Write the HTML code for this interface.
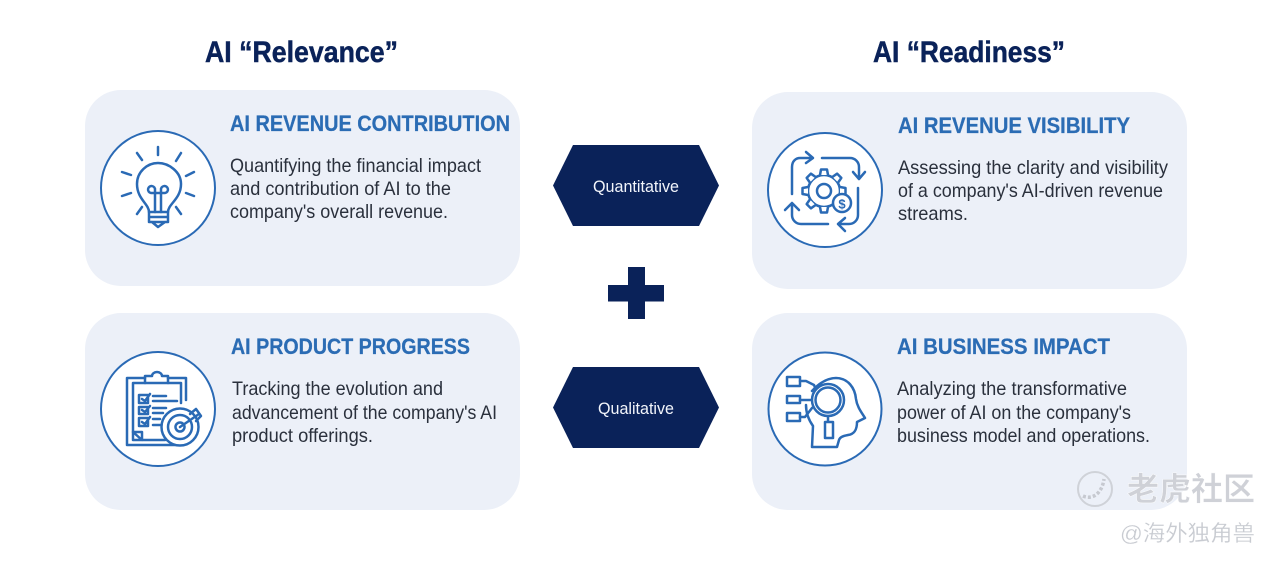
<!DOCTYPE html>
<html>
<head>
<meta charset="utf-8">
<style>
html,body{margin:0;padding:0;background:#fff;width:1280px;height:563px;overflow:hidden}
svg{display:block}
text{font-family:"Liberation Sans","Noto Sans CJK SC",sans-serif}
.t{font-size:30px;font-weight:700;fill:#0a2259;stroke:#0a2259;stroke-width:.5}
.h{font-size:22.5px;font-weight:700;fill:#2b6cb4;stroke:#2b6cb4;stroke-width:.25}
.b{font-size:19.5px;fill:#2a303c}
.x{font-size:16.5px;fill:#f2f5fb}
.i{fill:none;stroke:#2a6ab5;stroke-width:2.5;stroke-linecap:round;stroke-linejoin:round}
.c{fill:#fff;stroke:#2a6ab5;stroke-width:2}
</style>
</head>
<body>
<svg width="1280" height="563" viewBox="0 0 1280 563" xmlns="http://www.w3.org/2000/svg">
<rect width="1280" height="563" fill="#fff"/>

<text class="t" x="205" y="62" textLength="193" lengthAdjust="spacingAndGlyphs">AI “Relevance”</text>
<text class="t" x="873" y="62" textLength="192" lengthAdjust="spacingAndGlyphs">AI “Readiness”</text>

<rect x="85" y="90" width="435" height="196" rx="36" fill="#ecf0f8"/>
<rect x="85" y="313" width="435" height="197" rx="36" fill="#ecf0f8"/>
<rect x="752" y="92" width="435" height="197" rx="36" fill="#ecf0f8"/>
<rect x="752" y="313" width="435" height="197" rx="36" fill="#ecf0f8"/>

<circle class="c" cx="158" cy="188" r="57"/>
<circle class="c" cx="158" cy="409" r="57"/>
<circle class="c" cx="825" cy="190" r="57"/>
<circle class="c" cx="825" cy="409" r="56.5"/>

<!-- Card 1 -->
<text class="h" x="230" y="131" textLength="280" lengthAdjust="spacingAndGlyphs">AI REVENUE CONTRIBUTION</text>
<text class="b" x="230" y="172" textLength="251" lengthAdjust="spacingAndGlyphs">Quantifying the financial impact</text>
<text class="b" x="230" y="195" textLength="221" lengthAdjust="spacingAndGlyphs">and contribution of AI to the</text>
<text class="b" x="230" y="218" textLength="218" lengthAdjust="spacingAndGlyphs">company's overall revenue.</text>

<!-- Card 2 -->
<text class="h" x="231" y="354" textLength="239" lengthAdjust="spacingAndGlyphs">AI PRODUCT PROGRESS</text>
<text class="b" x="232" y="395" textLength="211" lengthAdjust="spacingAndGlyphs">Tracking the evolution and</text>
<text class="b" x="232" y="419" textLength="265" lengthAdjust="spacingAndGlyphs">advancement of the company's AI</text>
<text class="b" x="232" y="442" textLength="141" lengthAdjust="spacingAndGlyphs">product offerings.</text>

<!-- Card 3 -->
<text class="h" x="898" y="133" textLength="232" lengthAdjust="spacingAndGlyphs">AI REVENUE VISIBILITY</text>
<text class="b" x="898" y="174" textLength="270" lengthAdjust="spacingAndGlyphs">Assessing the clarity and visibility</text>
<text class="b" x="898" y="197" textLength="265" lengthAdjust="spacingAndGlyphs">of a company's AI-driven revenue</text>
<text class="b" x="898" y="220" textLength="70" lengthAdjust="spacingAndGlyphs">streams.</text>

<!-- Card 4 -->
<text class="h" x="897" y="354" textLength="213" lengthAdjust="spacingAndGlyphs">AI BUSINESS IMPACT</text>
<text class="b" x="897" y="395" textLength="230" lengthAdjust="spacingAndGlyphs">Analyzing the transformative</text>
<text class="b" x="897" y="419" textLength="234" lengthAdjust="spacingAndGlyphs">power of AI on the company's</text>
<text class="b" x="897" y="442" textLength="253" lengthAdjust="spacingAndGlyphs">business model and operations.</text>

<!-- Hexagons and plus -->
<polygon points="573,145 699,145 719,185.5 699,226 573,226 553,185.5" fill="#0a2259"/>
<polygon points="573,367 699,367 719,407.5 699,448 573,448 553,407.5" fill="#0a2259"/>
<polygon points="628,267 645,267 645,285 664,285 664,301.500 645,301.500 645,319 628,319 628,301.500 608,301.500 608,285 628,285" fill="#0a2259"/>
<text class="x" x="593" y="192" textLength="86" lengthAdjust="spacingAndGlyphs">Quantitative</text>
<text class="x" x="598" y="414" textLength="76" lengthAdjust="spacingAndGlyphs">Qualitative</text>

<!-- Bulb icon -->
<g class="i">
<path d="M158 147V155M137 153L142 160M181 153L176 161M122 172L131 175M194 172L186 176M122 196L131 193M194 196L186 193M137 214L142 207M181 214L176 207"/>
<path d="M149 212C149 204 137 199 137 184C137 172 147 163 158 163C169 163 181 172 181 184C181 199 168 204 168 212Z"/>
<path d="M155 212V190A3.500 3.500 0 1 0 151 193H165A3.500 3.500 0 1 0 161 190V212"/>
<path d="M149 212V222H168V212M149 217H168M152 222L158 227L165 222"/>
</g>

<!-- Clipboard icon -->
<g class="i">
<path d="M145 378H127V445H175M168 378H186V400"/>
<path d="M133 432V383H145M168 383H181V403"/>
<path d="M133 440V432H142V440ZM133 440H165M133 432L142 440"/>
<path d="M145 383V376H152A5 4 0 0 1 162 376H168V383Z"/>
<path d="M139 395H148V403H139ZM139 407H148V414H139ZM139 418H148V426H139ZM142 399L145 401L150 394M142 410L145 412L150 406M142 422L145 424L150 417"/>
<path d="M153 396H166M153 401H177M153 408H166M153 413H163M153 419H160M153 425H160"/>
<circle cx="180" cy="427" r="18.500" fill="#fff"/>
<circle cx="180" cy="427" r="12"/>
<circle cx="180" cy="427" r="4.500"/>
<path d="M180 427L199 414M190 414L196 409L201 416L196 421"/>
</g>

<!-- Revenue cycle icon -->
<g class="i">
<path d="M792 194V167C792 161 796 158 800 158H812M806 152L813 158L806 163"/>
<path d="M822 158H850C855 158 859 162 859 167V178M853 172L859 179L865 172"/>
<path d="M858 188V215C858 220 854 224 849 224H838M845 218L838 224L845 231"/>
<path d="M828 224H801C796 224 792 220 792 215V203M785 210L792 203L799 210"/>
<circle cx="824" cy="191" r="16"/>
<g fill="#fff">
<path d="M820 175L821 169.500H827L828 175" transform="rotate(0 824 191)"/>
<path d="M820 175L821 169.500H827L828 175" transform="rotate(45 824 191)"/>
<path d="M820 175L821 169.500H827L828 175" transform="rotate(90 824 191)"/>
<path d="M820 175L821 169.500H827L828 175" transform="rotate(135 824 191)"/>
<path d="M820 175L821 169.500H827L828 175" transform="rotate(180 824 191)"/>
<path d="M820 175L821 169.500H827L828 175" transform="rotate(225 824 191)"/>
<path d="M820 175L821 169.500H827L828 175" transform="rotate(270 824 191)"/>
<path d="M820 175L821 169.500H827L828 175" transform="rotate(315 824 191)"/>
</g>
<circle cx="824" cy="191" r="7"/>
<circle cx="842" cy="203" r="9" fill="#fff"/>
</g>
<text x="842" y="208.500" text-anchor="middle" font-size="13" font-weight="700" fill="#2a6ab5">$</text>

<!-- Head icon -->
<g class="i">
<path d="M787 377H800V386H787ZM787 396H800V403H787ZM787 413H800V421H787Z"/>
<path d="M800 381H806L814 385L817 392M800 400H812M800 417H805L812 408"/>
<path d="M812 391C822 380 830 378 836 378C848 378 855 388 856 399C857 407 862 413 865 418L857 422C857 429 855 434 848 435C843 436 840 437 839 440L837 447H812L813 426C808 419 806 412 806 405"/>
<circle cx="828" cy="400" r="16" fill="#fff"/>
<circle cx="828" cy="400" r="12.500"/>
<path d="M828 416V422M825 422H833V438H825Z"/>
</g>

<!-- Watermark -->
<g>
<circle cx="1095" cy="489" r="17" fill="none" stroke="#cfd2d8" stroke-width="2"/>
<path d="M1083 496C1092 500 1102 494 1104 479" fill="none" stroke="#c6c9d0" stroke-width="3.500" stroke-dasharray="3 2"/>
<text x="1127" y="500" font-size="32" font-weight="700" textLength="128" lengthAdjust="spacingAndGlyphs" fill="#cfd1d7" stroke="#fff" stroke-width="0.400">老虎社区</text>
<text x="1120" y="541" font-size="22" textLength="135" lengthAdjust="spacingAndGlyphs" fill="#c8cbd1" stroke="#fff" stroke-width="0.200">@海外独角兽</text>
</g>
</svg>
</body>
</html>
